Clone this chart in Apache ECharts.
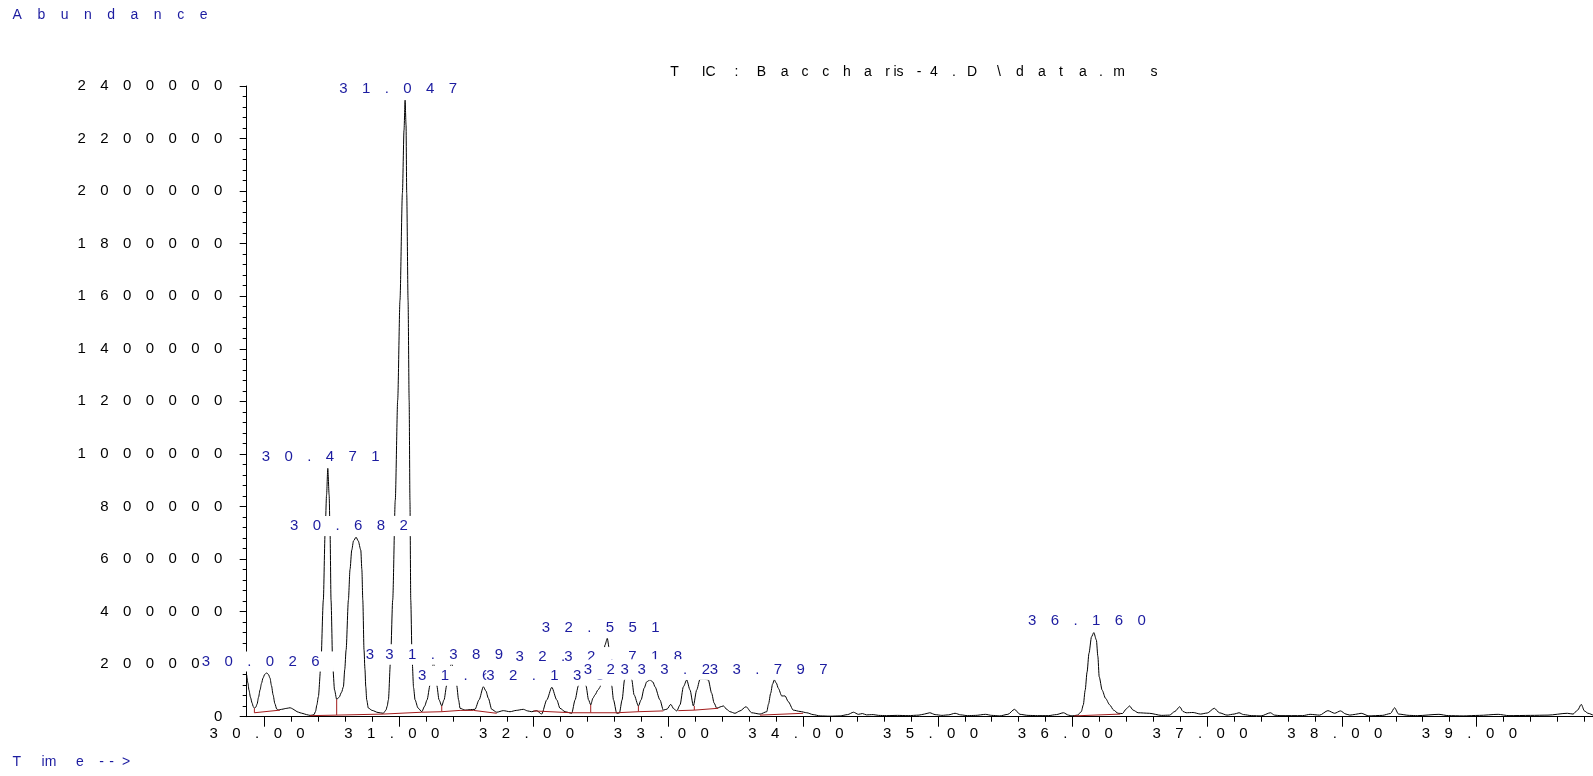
<!DOCTYPE html>
<html>
<head>
<meta charset="utf-8">
<title>TIC: Baccharis-4.D\data.ms</title>
<script src="https://cdn.jsdelivr.net/npm/echarts@6/dist/echarts.min.js"></script>
<style>
  html, body { margin: 0; padding: 0; background: #fff; }
  #chart { width: 1593px; height: 776px; }
</style>
</head>
<body>
<div id="chart"></div>
<script>
// ---------------- data ----------------
// total ion chromatogram: [retention time (min), abundance]
const trace = [
  [29.869,159000],[29.878,128000],[29.886,101000],[29.897,74000],[29.909,52000],[29.918,38000],
  [29.927,32000],[29.936,36000],[29.946,48000],[29.957,74000],[29.968,102000],[29.979,127000],
  [29.990,147000],[30.003,161000],[30.018,167000],[30.031,160000],[30.042,147000],[30.053,118000],
  [30.065,83000],[30.078,50000],[30.092,29000],[30.105,26000],[30.117,27000],[30.139,29000],
  [30.155,31000],[30.169,32000],[30.180,33000],[30.191,34000],[30.202,32000],[30.213,29000],
  [30.228,24000],[30.243,19000],[30.265,15000],[30.287,12000],[30.313,8000],[30.339,5000],
  [30.355,6000],[30.369,8000],[30.380,20000],[30.390,45000],[30.401,76000],[30.419,190000],
  [30.438,444000],[30.451,698000],[30.462,844000],[30.471,945000],[30.481,844000],[30.488,698000],
  [30.495,444000],[30.508,190000],[30.521,102000],[30.537,66000],[30.555,74000],[30.573,93000],
  [30.587,114000],[30.597,180000],[30.607,254000],[30.624,444000],[30.636,560000],[30.649,634000],
  [30.662,669000],[30.681,683000],[30.697,669000],[30.716,634000],[30.724,560000],[30.731,444000],
  [30.740,254000],[30.747,180000],[30.753,114000],[30.760,64000],[30.772,33000],[30.800,24000],
  [30.844,16000],[30.883,13000],[30.903,25000],[30.912,40000],[30.921,64000],[30.937,216000],
  [30.953,444000],[30.972,824000],[30.990,1205000],[31.007,1585000],[31.025,1992000],[31.037,2232000],
  [31.045,2346000],[31.052,2251000],[31.057,1992000],[31.067,1585000],[31.075,1205000],[31.081,824000],
  [31.087,444000],[31.097,216000],[31.108,110000],[31.119,64000],[31.141,33000],[31.169,19000],
  [31.190,40000],[31.208,64000],[31.230,120000],[31.256,208000],[31.280,120000],[31.297,64000],
  [31.317,41000],[31.334,64000],[31.354,120000],[31.390,204000],[31.428,120000],[31.442,64000],
  [31.453,32000],[31.490,25000],[31.530,27000],[31.564,28000],[31.594,64000],[31.626,114000],
  [31.645,98000],[31.663,70000],[31.688,28000],[31.725,17000],[31.774,23000],[31.824,19000],
  [31.870,24000],[31.923,28000],[31.955,22000],[31.985,19000],[32.022,23000],[32.059,10000],
  [32.097,64000],[32.134,112000],[32.171,64000],[32.195,32000],[32.233,19000],[32.282,13000],
  [32.307,64000],[32.331,117000],[32.359,185000],[32.388,117000],[32.407,64000],[32.423,45000],
  [32.440,71000],[32.455,83000],[32.477,102000],[32.492,112000],[32.511,178000],[32.529,273000],
  [32.546,298000],[32.562,254000],[32.579,117000],[32.592,64000],[32.616,13000],[32.636,14000],
  [32.656,64000],[32.674,140000],[32.704,193000],[32.728,140000],[32.745,83000],[32.777,41000],
  [32.797,64000],[32.820,109000],[32.839,133000],[32.863,140000],[32.885,132000],[32.900,114000],
  [32.937,64000],[32.962,25000],[32.990,29000],[33.017,47000],[33.041,29000],[33.062,22000],
  [33.086,45000],[33.111,114000],[33.136,140000],[33.160,102000],[33.185,41000],[33.210,102000],
  [33.234,142000],[33.264,143000],[33.296,140000],[33.321,89000],[33.339,52000],[33.359,32000],
  [33.383,37000],[33.408,41000],[33.435,27000],[33.457,19000],[33.494,13000],[33.531,22000],
  [33.576,38000],[33.618,15000],[33.680,10000],[33.730,19000],[33.743,48000],[33.759,89000],
  [33.773,124000],[33.786,140000],[33.801,128000],[33.816,108000],[33.841,79000],[33.866,79000],
  [33.890,57000],[33.927,25000],[33.977,20000],[34.027,15000],[34.074,8000],[34.126,3000],
  [34.200,2000],[34.275,3000],[34.330,8000],[34.374,17000],[34.410,9000],[34.440,12000],
  [34.470,7000],[34.520,8000],[34.560,5000],[34.620,4000],[34.700,5000],[34.780,4000],
  [34.860,6000],[34.900,10000],[34.940,15000],[34.980,8000],[35.030,5000],[35.080,7000],
  [35.128,13000],[35.170,7000],[35.220,4000],[35.280,5000],[35.354,9000],[35.400,5000],
  [35.460,3000],[35.520,9000],[35.569,28000],[35.610,9000],[35.670,5000],[35.740,4000],
  [35.820,4000],[35.880,8000],[35.933,15000],[35.970,6000],[35.996,3000],[36.037,6000],
  [36.065,19000],[36.080,45000],[36.094,101000],[36.108,170000],[36.122,241000],[36.141,304000],
  [36.158,320000],[36.177,292000],[36.188,230000],[36.198,152000],[36.220,101000],[36.245,70000],
  [36.276,45000],[36.305,25000],[36.338,13000],[36.370,12000],[36.400,30000],[36.423,41000],
  [36.450,25000],[36.487,15000],[36.570,13000],[36.660,5000],[36.720,6000],[36.760,20000],
  [36.796,38000],[36.820,20000],[36.843,15000],[36.895,16000],[36.950,10000],[37.000,14000],
  [37.053,32000],[37.090,15000],[37.147,6000],[37.200,10000],[37.236,15000],[37.270,8000],
  [37.330,4000],[37.400,3000],[37.469,15000],[37.500,6000],[37.540,4000],[37.708,4000],
  [37.764,9000],[37.835,6000],[37.896,23000],[37.946,13000],[37.989,22000],[38.030,10000],
  [38.059,6000],[38.100,9000],[38.143,13000],[38.200,3000],[38.300,5000],[38.360,12000],
  [38.391,34000],[38.420,10000],[38.500,5000],[38.560,4000],[38.720,9000],[38.790,4000],
  [38.900,3000],[39.020,5000],[39.160,9000],[39.240,4000],[39.400,5000],[39.530,6000],
  [39.673,13000],[39.716,10000],[39.750,25000],[39.777,47000],[39.800,22000],[39.827,13000],
  [39.864,6000]
];

// integration baselines, one array of [time, abundance] per segment
const baseline1 = [[29.926,15000],[30.116,25000]];
const baseline2 = [[30.339,4000],[30.537,6000],[30.883,10000],[31.169,17000],[31.317,19000],[31.453,24000],[31.553,24000],[31.725,13000]];
const baseline3 = [[31.997,22000],[32.282,15000],[32.423,15000],[32.616,15000],[32.777,19000],[32.962,22000]];
const baseline4 = [[33.073,23000],[33.192,25000],[33.370,32000]];
const baseline5 = [[33.680,6000],[34.000,13000]];
const baseline6 = [[36.012,3000],[36.355,10000]];

// peak split drops: [time, baseline abundance, signal abundance]
const drops = [
  [29.926,15000,32000],[30.537,6000,66000],[31.169,17000,19000],[31.317,19000,41000],
  [32.423,15000,45000],[32.777,19000,41000],[33.192,25000,41000]
];

// retention times of the integrated peaks
const peakRT = ['30.026','30.471','30.682','31.047','31.243','31.389','31.631','32.138',
                '32.356','32.551','32.718','32.863','33.136','33.262','33.797','36.160'];

// axis ticks
const yInterval = 200000;
const majorTimes = [];
for (let m = 30; m <= 39; m++) majorTimes.push(m);
const minorTimes = [];
for (let k = 150; k <= 199; k++) minorTimes.push(+(k * 0.2).toFixed(1));

// ---------------- layout / style ----------------
const FONT = '"Liberation Sans", Arial, sans-serif';
const FS_NUM = 15;   // numbers: tick labels and peak labels
const FS_TXT = 14;   // axis titles and header
const LS = 14.4;     // letter spacing of numbers
const BLUE = '#1c1ca0';
const RED = '#a31c1c';
const X_MIN = 29.869, X_MAX = 39.864;

// height (abundance units) at which each peak label is centred
const labelLevel = [210000, 988000, 726000, 2391000, 237000, 237000, 156000, 156000,
                    226000, 339000, 226000, 180000, 180000, 180000, 180000, 365000];

const measureCtx = document.createElement('canvas').getContext('2d');
function glyphW(s, size) {
  measureCtx.font = size + 'px ' + FONT;
  return measureCtx.measureText(s).width;
}

function cellStyle(width, size, color, lineHeight) {
  return { width: width, align: 'left', fontSize: size, fontFamily: FONT,
           fontWeight: 'normal', color: color, lineHeight: lineHeight };
}

// letter-spaced text made of fixed-width rich cells
function spaced(text, ls, size, color, lineHeight, rich) {
  rich = rich || {};
  let out = '';
  for (const ch of text) {
    const key = 'g' + ch.charCodeAt(0);
    if (!rich[key]) rich[key] = cellStyle(glyphW(ch, size) + ls, size, color, lineHeight);
    out += '{' + key + '|' + ch + '}';
  }
  return { text: out, rich: rich };
}

// text whose tokens sit at given centre positions
function placed(tokens, centres, size, color) {
  const rich = {};
  let out = '';
  const lefts = tokens.map((t, i) => centres[i] - glyphW(t, size) / 2);
  tokens.forEach((t, i) => {
    const w = i < tokens.length - 1 ? lefts[i + 1] - lefts[i] : glyphW(t, size);
    rich['k' + i] = cellStyle(w, size, color, 14);
    out += '{k' + i + '|' + t + '}';
  });
  return { text: out, rich: rich, left: lefts[0] };
}

const axisRich = {};
spaced('0123456789.', LS, FS_NUM, '#000', 14, axisRich);

const abundanceTitle = spaced('Abundance', 15.5, FS_TXT, BLUE, 14);
const ticTitle = placed(
  ['T','IC',':','B','a','c','c','h','a','r','is','-','4','.','D','\\','d','a','t','a','.','m','s'],
  [674.6,708.7,736.4,761.4,784.6,805,825.7,847,868,887.5,898.5,919,934,954,972,999,1020,1042,1061,1083,1101,1119,1154],
  FS_TXT, '#000');
const timeTitle = placed(['T','im','e','-','-','>'], [16.7,49,80,101.7,111.7,126], FS_TXT, BLUE);

// ---------------- series ----------------
const series = [{
  type: 'line',
  data: trace,
  showSymbol: false,
  smooth: 0.25,
  smoothMonotone: 'x',
  lineStyle: { color: '#000', width: 1 },
  z: 2,
  silent: true
}];

[baseline1, baseline2, baseline3, baseline4, baseline5, baseline6].forEach(seg => {
  series.push({
    type: 'line', data: seg, showSymbol: false, silent: true, z: 3,
    lineStyle: { color: RED, width: 1 }
  });
});

drops.forEach(d => {
  series.push({
    type: 'line', data: [[d[0], d[1]], [d[0], d[2]]], showSymbol: false, silent: true, z: 3,
    lineStyle: { color: RED, width: 1 }
  });
});

// one series per peak label so later labels stack on top of earlier ones
peakRT.forEach((rt, i) => {
  const s = spaced(rt, LS, FS_NUM, BLUE, 20);
  series.push({
    type: 'scatter',
    z: 10 + i,
    silent: true,
    symbolSize: 0.1,
    itemStyle: { color: 'rgba(255,255,255,0)', opacity: 1 },
    label: {
      show: true, position: 'inside', opacity: 1,
      formatter: () => s.text, rich: s.rich,
      backgroundColor: '#fff', padding: 0
    },
    data: [[parseFloat(rt), labelLevel[i]]]
  });
});

// ---------------- chart ----------------
const chart = echarts.init(document.getElementById('chart'), null, { renderer: 'canvas' });
chart.setOption({
  animation: false,
  backgroundColor: '#fff',
  title: [
    { text: abundanceTitle.text, left: 12.6, top: 8, padding: 0,
      textStyle: { fontWeight: 'normal', rich: abundanceTitle.rich } },
    { text: ticTitle.text, left: ticTitle.left, top: 65, padding: 0,
      textStyle: { fontWeight: 'normal', rich: ticTitle.rich } },
    { text: timeTitle.text, left: timeTitle.left, top: 755, padding: 0,
      textStyle: { fontWeight: 'normal', rich: timeTitle.rich } }
  ],
  grid: { left: 246.7, right: 0, top: 86, bottom: 59.3, outerBoundsMode: 'none' },
  xAxis: [{
    type: 'value', min: X_MIN, max: X_MAX, position: 'bottom',
    axisLine: { show: true, lineStyle: { color: '#000', width: 1 } },
    axisTick: { show: true, customValues: minorTimes, length: 5, lineStyle: { color: '#000' } },
    axisLabel: {
      customValues: majorTimes, margin: 10, rich: axisRich,
      formatter: v => spaced(v.toFixed(2), LS, FS_NUM, '#000', 14, axisRich).text
    },
    splitLine: { show: false }
  }, {
    type: 'value', min: X_MIN, max: X_MAX, position: 'bottom', offset: 0,
    axisLine: { show: false },
    axisTick: { show: true, customValues: majorTimes, length: 10, lineStyle: { color: '#000' } },
    axisLabel: { show: false },
    splitLine: { show: false }
  }],
  yAxis: {
    type: 'value', min: 0, max: 2400000, interval: yInterval,
    axisLine: { show: true, lineStyle: { color: '#000', width: 1 } },
    axisTick: { show: true, length: 7, lineStyle: { color: '#000' } },
    minorTick: { show: true, splitNumber: 5, length: 4, lineStyle: { color: '#000' } },
    axisLabel: {
      margin: 10, rich: axisRich,
      formatter: v => spaced(String(v), LS, FS_NUM, '#000', 14, axisRich).text
    },
    splitLine: { show: false },
    minorSplitLine: { show: false }
  },
  series: series
});
</script>
</body>
</html>
